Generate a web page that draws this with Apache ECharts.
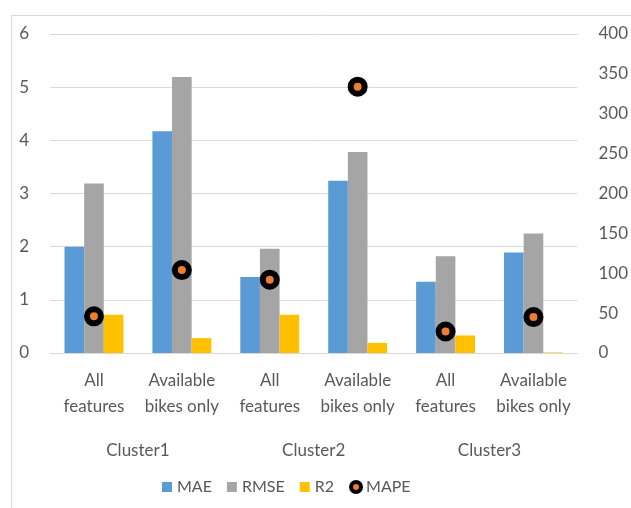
<!DOCTYPE html>
<html><head><meta charset="utf-8">
<script src="https://cdn.jsdelivr.net/npm/echarts@6/dist/echarts.min.js"></script>
<style>html,body{margin:0;padding:0;background:#fff}#c{width:631px;height:508px}</style>
</head><body><div id="c"></div>
<script>
const subCategories = ["All\nfeatures", "Available\nbikes only", "All\nfeatures", "Available\nbikes only", "All\nfeatures", "Available\nbikes only"];
const clusters = ["Cluster1", "Cluster2", "Cluster3"];
const maeValues = [2.0, 4.17, 1.43, 3.24, 1.34, 1.89];
const rmseValues = [3.19, 5.19, 1.96, 3.78, 1.82, 2.25];
const r2Values = [0.72, 0.28, 0.72, 0.19, 0.33, 0.01];
const mapeValues = [46, 104, 92, 334, 27, 45];
const leftTicks = [0, 6, 1];
const rightTicks = [0, 400, 50];

const font = "Lato";
const txt = "#595959";
const chart = echarts.init(document.getElementById('c'));
chart.setOption({
  animation: false,
  textStyle: { fontFamily: font },
  graphic: [{ type: 'rect', left: 9, top: 13, shape: { width: 700, height: 600 }, style: { fill: 'none', stroke: '#D9D9D9', lineWidth: 1 }, z: -1 }],
  grid: { left: 50, right: 52, top: 34, bottom: 155 },
  legend: {
    left: 157, top: 474, itemWidth: 10, itemHeight: 10, itemGap: 15,
    textStyle: { color: txt, fontSize: 16, fontFamily: font },
    data: [
      { name: 'MAE', icon: 'rect' }, { name: 'RMSE', icon: 'rect' }, { name: 'R2', icon: 'rect' },
      { name: 'MAPE', icon: 'circle', itemStyle: { color: '#ED7D31', borderColor: '#000', borderWidth: 4 } }
    ]
  },
  xAxis: [
    { type: 'category', data: subCategories, axisLine: { lineStyle: { color: '#D9D9D9' } }, axisTick: { show: false },
      axisLabel: { color: txt, fontSize: 17, lineHeight: 26, margin: 15, interval: 0, fontFamily: font } },
    { type: 'category', data: clusters, position: 'bottom', offset: 82, axisLine: { show: false }, axisTick: { show: false },
      axisLabel: { color: txt, fontSize: 17, lineHeight: 20, margin: 6, fontFamily: font } }
  ],
  yAxis: [
    { type: 'value', min: leftTicks[0], max: leftTicks[1], interval: leftTicks[2], axisLine: { show: false }, axisTick: { show: false },
      splitLine: { lineStyle: { color: '#D9D9D9' } }, axisLabel: { color: txt, fontSize: 17, margin: 21, fontFamily: font } },
    { type: 'value', min: rightTicks[0], max: rightTicks[1], interval: rightTicks[2], axisLine: { show: false }, axisTick: { show: false },
      splitLine: { show: false }, axisLabel: { color: txt, fontSize: 17, margin: 21, fontFamily: font } }
  ],
  series: [
    { name: 'MAE', type: 'bar', data: maeValues, barGap: 0, barCategoryGap: '33%', itemStyle: { color: '#5B9BD5' } },
    { name: 'RMSE', type: 'bar', data: rmseValues, itemStyle: { color: '#A5A5A5' } },
    { name: 'R2', type: 'bar', data: r2Values, itemStyle: { color: '#FFC000' } },
    { name: 'MAPE', type: 'scatter', yAxisIndex: 1, data: mapeValues, symbol: 'circle', symbolSize: 14,
      itemStyle: { color: '#ED7D31', borderColor: '#000', borderWidth: 6, opacity: 1 }, z: 5 }
  ]
});
</script></body></html>
